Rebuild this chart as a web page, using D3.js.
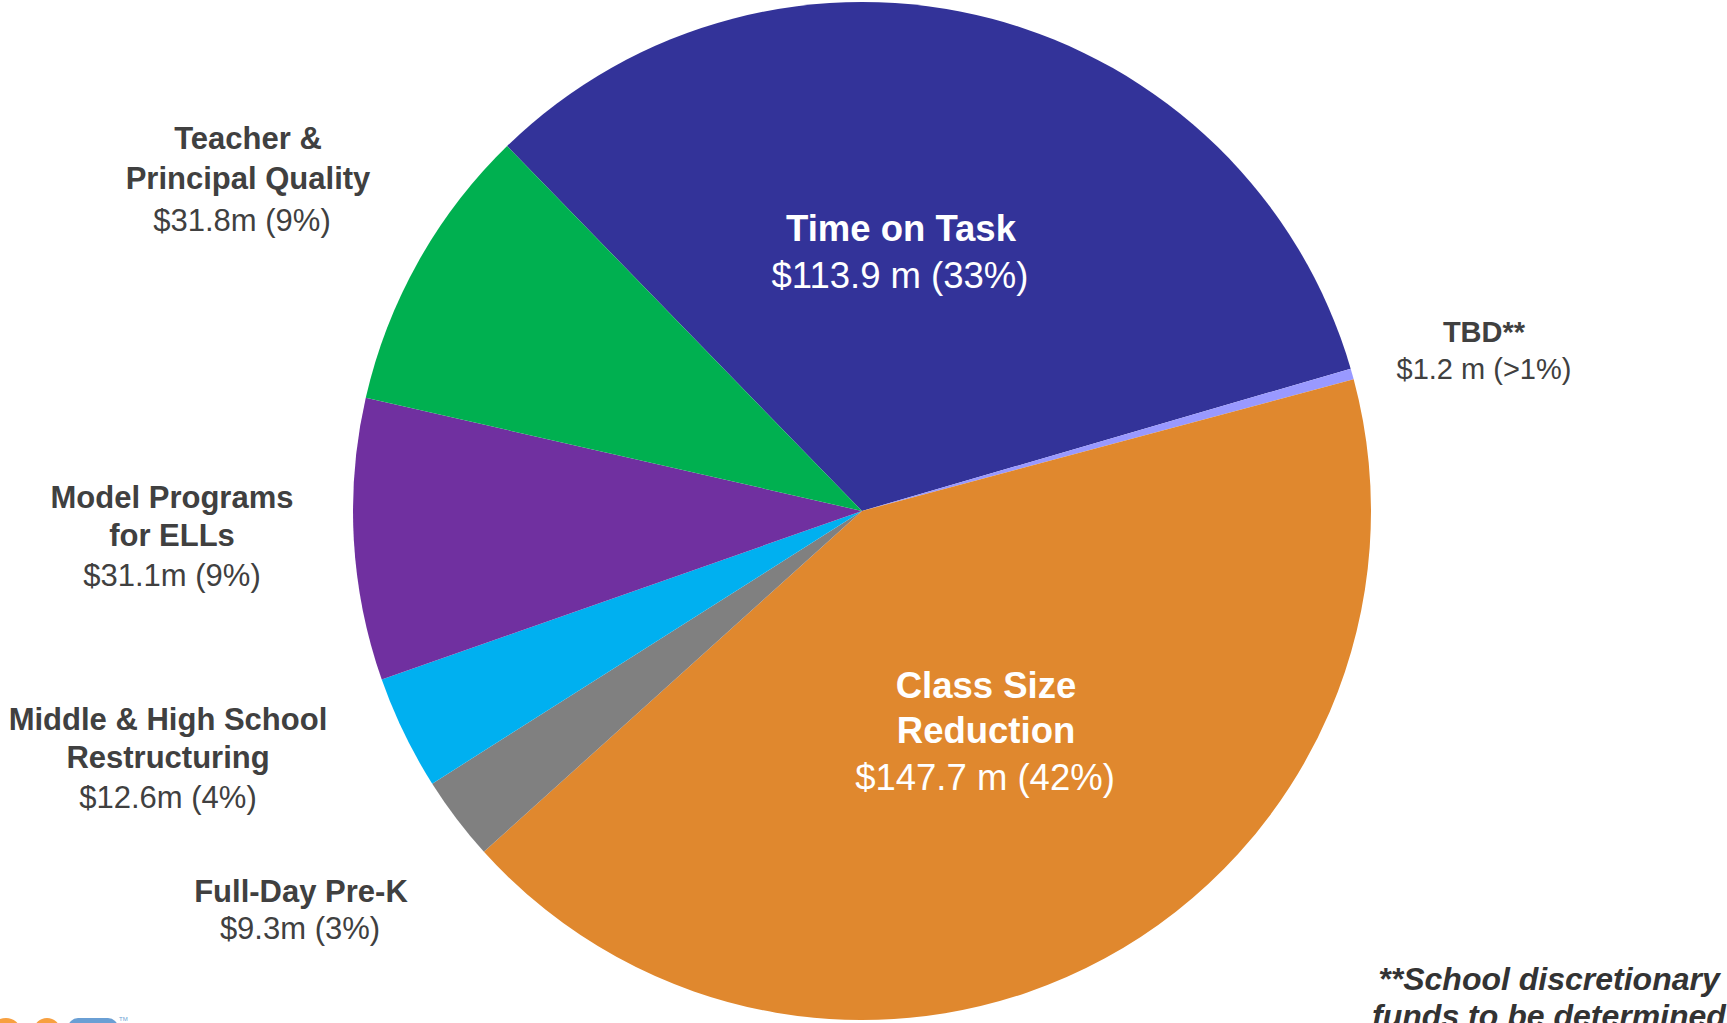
<!DOCTYPE html>
<html>
<head>
<meta charset="utf-8">
<script src="https://cdn.jsdelivr.net/npm/d3@7"></script>
<style>
  body { margin: 0; background: #fff; overflow: hidden; }
  svg { display: block; font-family: Arial, "Liberation Sans", sans-serif; }
</style>
</head>
<body>
<div class="canvas"></div>
<script>
// categories in clockwise order, starting with the slice at the top
const categories = ["Time on Task", "TBD**", "Class Size Reduction", "Full-Day Pre-K",
    "Middle & High School Restructuring", "Model Programs for ELLs", "Teacher & Principal Quality"]
const values = [113.9, 1.2, 147.7, 9.3, 12.6, 31.1, 31.8]   // $ millions
const valueLabels = ["$113.9 m (33%)", "$1.2 m (>1%)", "$147.7 m (42%)", "$9.3m (3%)",
    "$12.6m (4%)", "$31.1m (9%)", "$31.8m (9%)"]
const colors = ["#333399", "#9999ff", "#e0882e", "#808080", "#00b0f0", "#7030a0", "#00b050"]

/**
 * Dimensions
 */
const width = 1727
const height = 1023
const cx = 862, cy = 511, radius = 509

const svg = d3.select(".canvas")
    .append("svg")
    .attr("width", width)
    .attr("height", height)

const graph = svg.append("g")
    .attr("transform", `translate(${cx},${cy})`)

/**
 * Pie
 */
const deg = Math.PI / 180
const pie = d3.pie()
    .sort(null)
    .value(d => d.value)
    .startAngle(-44.2 * deg)
    .endAngle(315.8 * deg)

const arc = d3.arc()
    .innerRadius(0)
    .outerRadius(radius)

const data = categories.map((c, i) => ({name: c, value: values[i], color: colors[i]}))

graph.selectAll("path")
    .data(pie(data))
    .enter()
    .append("path")
        .attr("d", arc)
        .attr("fill", d => d.data.color)

/**
 * Labels (placed by hand like the original slide)
 */
const labelLayout = [
    {lines: ["Time on Task"], x: 901, vx: 900, y: 241, gap: 45, size: 36.5, fill: "#fff"},
    {lines: ["TBD**"], x: 1484, vx: 1484, y: 342, gap: 35, size: 29, fill: "#404040"},
    {lines: ["Class Size", "Reduction"], x: 986, vx: 985, y: 698, gap: 45, size: 36.5, fill: "#fff"},
    {lines: ["Full-Day Pre-K"], x: 301, vx: 300, y: 902, gap: 35, size: 31, fill: "#404040"},
    {lines: ["Middle & High School", "Restructuring"], x: 168, vx: 168, y: 730, gap: 38, size: 31, fill: "#404040"},
    {lines: ["Model Programs", "for ELLs"], x: 172, vx: 172, y: 508, gap: 38, size: 31, fill: "#404040"},
    {lines: ["Teacher &", "Principal Quality"], x: 248, vx: 242, y: 149, gap: 40, size: 31, fill: "#404040"}
]

labelLayout.forEach((l, i) => {
    const t = svg.append("text")
        .attr("text-anchor", "middle")
        .attr("fill", l.fill)
        .attr("font-size", l.size)
    l.lines.forEach((line, j) => {
        t.append("tspan")
            .attr("x", l.x)
            .attr("y", l.y + j * l.gap)
            .attr("font-weight", "bold")
            .text(line)
    })
    t.append("tspan")
        .attr("x", l.vx)
        .attr("y", l.y + l.lines.length * l.gap + 2)
        .text(valueLabels[i])
})

// footnote, cut off at the bottom of the slide as in the original
const foot = svg.append("text")
    .attr("text-anchor", "middle")
    .attr("fill", "#333")
    .attr("font-size", 32)
    .attr("font-weight", "bold")
    .attr("font-style", "italic")
foot.append("tspan").attr("x", 1549).attr("y", 990).text("**School discretionary")
foot.append("tspan").attr("x", 1549).attr("y", 1027).text("funds to be determined")

// bits of the logo peeking in at the bottom left
const logo = svg.append("g")
logo.append("ellipse").attr("cx", 6).attr("cy", 1030).attr("rx", 14).attr("ry", 12).attr("fill", "#f7a040")
logo.append("ellipse").attr("cx", 47).attr("cy", 1030).attr("rx", 13).attr("ry", 12).attr("fill", "#f7a040")
logo.append("rect").attr("x", 68).attr("y", 1018).attr("width", 50).attr("height", 20).attr("rx", 10).attr("fill", "#6a9fd4")
logo.append("text").attr("x", 119).attr("y", 1021).attr("font-size", 6).attr("fill", "#6a9fd4").text("TM")
</script>
</body>
</html>
